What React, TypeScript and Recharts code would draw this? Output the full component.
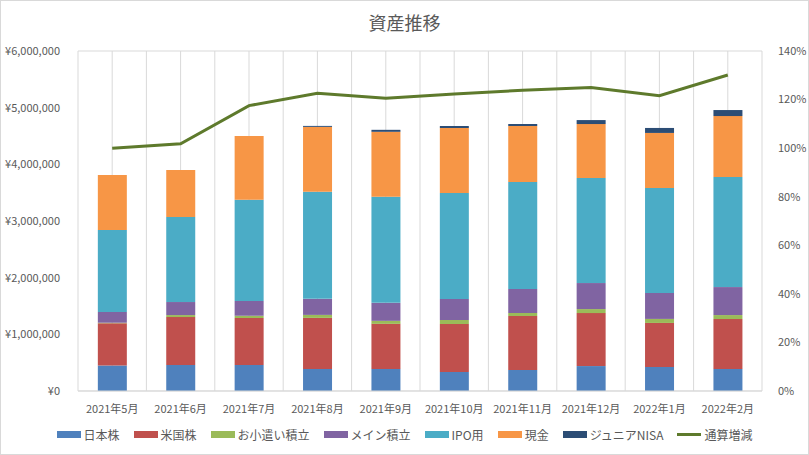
import React from 'react';
import {
  ComposedChart,
  Bar,
  Line,
  XAxis,
  YAxis,
  CartesianGrid,
} from 'recharts';

// 月ごとの資産内訳 (円) と通算増減 (%)
const months = [
  '2021年5月', '2021年6月', '2021年7月', '2021年8月', '2021年9月',
  '2021年10月', '2021年11月', '2021年12月', '2022年1月', '2022年2月',
];
const japanStocks = [450000, 460000, 460000, 390000, 390000, 335000, 370000, 440000, 425000, 390000];
const usStocks = [745000, 845000, 830000, 900000, 795000, 847000, 953000, 935000, 776000, 880000];
const allowanceSaving = [10000, 35000, 36000, 53000, 53000, 71000, 52000, 71000, 71000, 70000];
const mainSaving = [190000, 230000, 264000, 283000, 318000, 371000, 424000, 459000, 458000, 494000];
const ipoFund = [1447000, 1500000, 1783000, 1888000, 1871000, 1870000, 1888000, 1853000, 1853000, 1941000];
const cash = [970000, 830000, 1129000, 1147000, 1147000, 1147000, 988000, 953000, 971000, 1077000];
const juniorNisa = [0, 0, 0, 17000, 35000, 35000, 36000, 70000, 88000, 106000];
const totalChange = [100, 101.8, 117.5, 122.6, 120.5, 122.3, 123.8, 125, 121.6, 130.1];

const leftTicks = [0, 1000000, 2000000, 3000000, 4000000, 5000000, 6000000];
const rightTicks = [0, 20, 40, 60, 80, 100, 120, 140];

const series = [
  { key: 'jp', name: '日本株', color: '#4F81BD', values: japanStocks },
  { key: 'us', name: '米国株', color: '#C0504D', values: usStocks },
  { key: 'allowance', name: 'お小遣い積立', color: '#9BBB59', values: allowanceSaving },
  { key: 'main', name: 'メイン積立', color: '#8064A2', values: mainSaving },
  { key: 'ipo', name: 'IPO用', color: '#4BACC6', values: ipoFund },
  { key: 'cash', name: '現金', color: '#F79646', values: cash },
  { key: 'nisa', name: 'ジュニアNISA', color: '#2C4D75', values: juniorNisa },
];
const lineColor = '#5E7A2C';

const data = months.map((m, i) => {
  const row: Record<string, any> = { month: m, total: totalChange[i] };
  series.forEach((s) => {
    row[s.key] = s.values[i];
  });
  return row;
});

const font = '"Noto Sans CJK JP", "Noto Sans", sans-serif';
const textColor = '#595959';
const gridColor = '#D9D9D9';

const yen = (v: number) => '¥' + v.toLocaleString('en-US');

const App: React.FC = () => {
  return (
    <div
      style={{
        position: 'fixed',
        left: 0,
        top: 0,
        width: 809,
        height: 455,
        boxSizing: 'border-box',
        border: '1px solid #D9D9D9',
        background: '#fff',
        fontFamily: font,
      }}
    >
      <div
        style={{
          position: 'absolute',
          top: 8,
          width: '100%',
          textAlign: 'center',
          fontSize: 18,
          color: textColor,
        }}
      >
        資産推移
      </div>
      <div style={{ position: 'absolute', left: -1, top: -1 }}>
        <ComposedChart
          width={809}
          height={455}
          data={data}
          barCategoryGap="29%"
          margin={{ top: 51, right: 0, left: 0, bottom: 34 }}
        >
          <CartesianGrid
            stroke={gridColor}
            verticalCoordinatesGenerator={({ offset }: any) =>
              Array.from({ length: months.length * 2 + 1 }, (_, i) => offset.left + (i * offset.width) / (months.length * 2))
            }
          />
          <XAxis
            dataKey="month"
            height={30}
            axisLine={{ stroke: gridColor }}
            tickLine={false}
            tick={{ fill: textColor, fontSize: 11, fontFamily: font }}
            tickMargin={8}
            interval={0}
          />
          <YAxis
            yAxisId="left"
            width={78}
            domain={[0, 6000000]}
            ticks={leftTicks}
            tickFormatter={yen}
            axisLine={false}
            tickLine={false}
            tick={{ fill: textColor, fontSize: 11, fontFamily: font }}
            tickMargin={12}
          />
          <YAxis
            yAxisId="right"
            orientation="right"
            width={47}
            domain={[0, 140]}
            ticks={rightTicks}
            tickFormatter={(v: number) => `${v}%`}
            axisLine={false}
            tickLine={false}
            tick={{ fill: textColor, fontSize: 11, fontFamily: font }}
            tickMargin={10}
          />
          {series.map((s) => (
            <Bar
              key={s.key}
              yAxisId="left"
              dataKey={s.key}
              name={s.name}
              stackId="assets"
              fill={s.color}
              isAnimationActive={false}
            />
          ))}
          <Line
            yAxisId="right"
            dataKey="total"
            name="通算増減"
            stroke={lineColor}
            strokeWidth={3}
            dot={false}
            type="linear"
            isAnimationActive={false}
          />
        </ComposedChart>
      </div>
      <div
        style={{
          position: 'absolute',
          top: 425,
          left: 0,
          width: '100%',
          display: 'flex',
          justifyContent: 'center',
          gap: 14,
          fontSize: 12,
          color: textColor,
          alignItems: 'center',
        }}
      >
        {series.map((s) => (
          <div key={s.key} style={{ display: 'flex', alignItems: 'center' }}>
            <span style={{ display: 'inline-block', width: 24, height: 7, background: s.color, marginRight: 3 }} />
            {s.name}
          </div>
        ))}
        <div style={{ display: 'flex', alignItems: 'center' }}>
          <span style={{ display: 'inline-block', width: 24, height: 3, background: lineColor, marginRight: 3 }} />
          通算増減
        </div>
      </div>
    </div>
  );
};

export default App;
